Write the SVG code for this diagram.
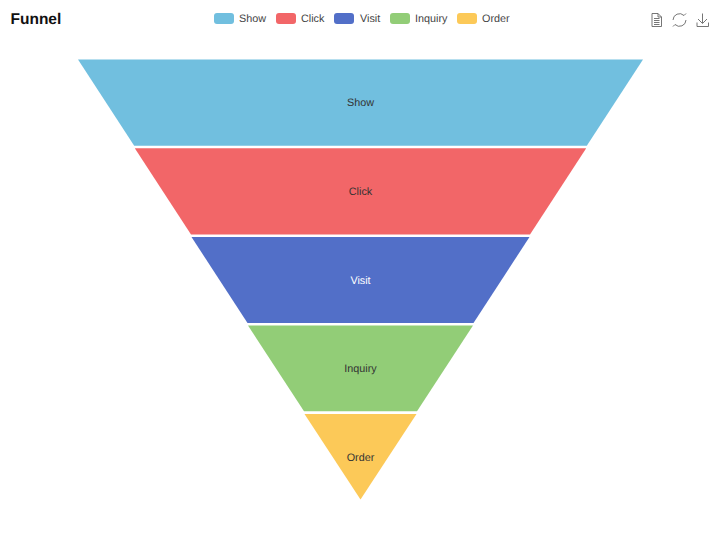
<svg xmlns="http://www.w3.org/2000/svg" width="720" height="539" viewBox="0 0 720 539">
<style>
text{font-family:"Liberation Sans",Arial,sans-serif;font-size:10.800px;text-rendering:geometricPrecision}
.title{font-size:15.500px;font-weight:bold;fill:#111}
.lg{fill:#444}
.lb{fill:#333;text-anchor:middle}
.ic{fill:none;stroke:#666;stroke-width:.9}
</style>
<rect width="720" height="539" fill="#fff"/>
<text class="title" x="10.500" y="24">Funnel</text>
<g id="legend">
<rect x="214" y="13" width="20" height="11" rx="3" fill="#71bfdf"/><text class="lg" x="239" y="22">Show</text>
<rect x="276" y="13" width="20" height="11" rx="3" fill="#f26668"/><text class="lg" x="301" y="22">Click</text>
<rect x="334" y="13" width="20" height="11" rx="3" fill="#526fc8"/><text class="lg" x="360" y="22">Visit</text>
<rect x="390" y="13" width="20" height="11" rx="3" fill="#92cd77"/><text class="lg" x="415" y="22">Inquiry</text>
<rect x="457" y="13" width="20" height="11" rx="3" fill="#fcc958"/><text class="lg" x="482" y="22">Order</text>
</g>
<g id="toolbox">
<path class="ic" d="M652 13.500H658L661.500 17V26.500H652ZM658 13.500V17H661.500M654 18.500H659.500M654 20.500H659.500M654 22.500H659.500M654 24.500H659.500"/>
<path class="ic" d="M673 20A6.500 6.500 0 0 1 684 15.500M686 20A6.500 6.500 0 0 1 675 24.500M684 15.500L686 13.500M675 24.500L673 26.500"/>
<path class="ic" d="M702.500 13.500V23M698 19L702.500 23.500L707 19M697 22.500V26.500H708.500V22.500"/>
</g>
<g id="node-show"><path fill="#71bfdf" d="M78 59.500H643L586.800 145.700H134.200Z"/><text class="lb" x="360.500" y="106">Show</text></g>
<g id="node-click"><path fill="#f26668" d="M134.800 148.300H586.200L530 234.500H191Z"/><text class="lb" x="360.500" y="195">Click</text></g>
<g id="node-visit"><path fill="#526fc8" d="M191.500 237H529.500L473.500 323H247.500Z"/><text class="lb" x="360.500" y="284" style="fill:#fff">Visit</text></g>
<g id="node-inquiry"><path fill="#92cd77" d="M248 325.500H473L417 411.300H304Z"/><text class="lb" x="360.500" y="372">Inquiry</text></g>
<g id="node-order"><path fill="#fcc958" d="M304.500 414H416.500L360.500 499.500Z"/><text class="lb" x="360.500" y="461">Order</text></g>
<g id="connectors"/>
</svg>
